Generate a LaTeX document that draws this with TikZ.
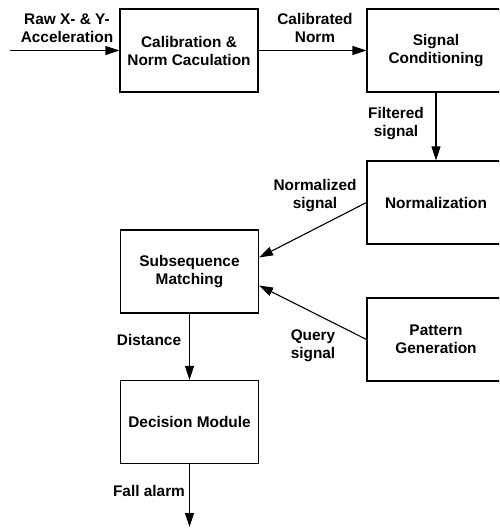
\documentclass[tikz,border=0pt]{standalone}
\usepackage{fontspec}
\setmainfont{Liberation Sans}
\usetikzlibrary{arrows.meta}

\tikzset{
  block/.style={draw, minimum width=69pt, minimum height=41.5pt, align=center, inner sep=0pt},
  lbl/.style={align=center, inner sep=0pt},
  sig/.style={-{Triangle[length=7pt,width=4.5pt]}},
}

\begin{document}
\begin{tikzpicture}[x=0.5pt, y=-0.5pt, line width=0.55pt, font=\fontsize{7.7}{9}\selectfont\bfseries]
\useasboundingbox (0,0) rectangle (499,529);
\clip (0,0) rectangle (499,529);

% processing blocks
\node[block] (calib) at (189,50.5) {Calibration \&\\Norm Caculation};
\node[block] (cond) at (436,50.5) {Signal\\Conditioning};
\node[block] (norm) at (436,202.5) {Normalization};
\node[block] (match) at (189.5,271.5) {Subsequence\\Matching};
\node[block] (pattern) at (436,339.5) {Pattern\\Generation};
\node[block] (decide) at (189.5,422) {Decision Module};

% free ends
\coordinate (in) at (10,50.5);
\coordinate (out) at (189.5,527);

% connectors
\draw[sig] (in) -- (calib.west);
\draw[sig] (calib) -- (cond);
\draw[sig] (cond) -- (norm);
\draw[sig] (norm.west) -- ([yshift=7pt]match.east);
\draw[sig] (pattern.west) -- ([yshift=-7pt]match.east);
\draw[sig] (match) -- (decide);
\draw[sig] (decide) -- (out);

% signal labels
\node[lbl] (rawlbl) at (67,28) {Raw X- \& Y-\\Acceleration};
\node[lbl] (callbl) at (315,28) {Calibrated\\Norm};
\node[lbl] (filtlbl) at (396,124) {Filtered\\signal};
\node[lbl] (normlbl) at (315,196) {Normalized\\signal};
\node[lbl] (querylbl) at (313,346) {Query\\signal};
\node[lbl] (distlbl) at (149,340) {Distance};
\node[lbl] (alarmlbl) at (149,491) {Fall alarm};

\end{tikzpicture}
\end{document}
